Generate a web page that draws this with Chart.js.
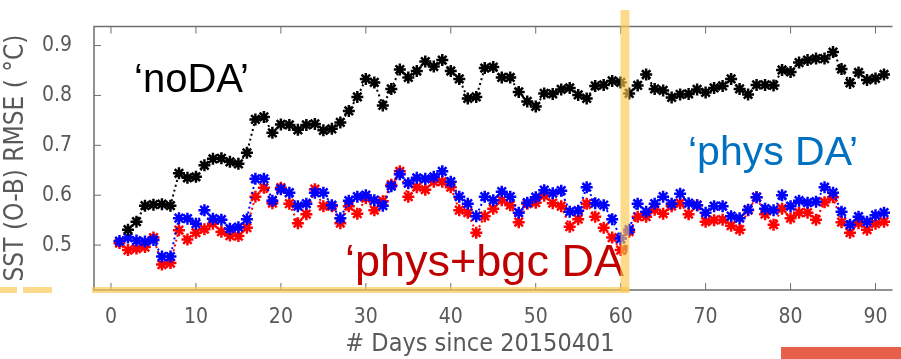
<!DOCTYPE html>
<html>
<head>
<meta charset="utf-8">
<script src="https://cdn.jsdelivr.net/npm/chart.js@4.4.1/dist/chart.umd.min.js"></script>
<style>
  html, body { margin: 0; padding: 0; background: #fff; overflow: hidden; }
  #wrap { position: relative; width: 901px; height: 359px; }
</style>
</head>
<body>
<div id="wrap"><canvas id="sstChart"></canvas></div>
<script>
const days = [1, 2, 3, 4, 5, 6, 7, 8, 9, 10, 11, 12, 13, 14, 15, 16, 17, 18, 19, 20,
  21, 22, 23, 24, 25, 26, 27, 28, 29, 30, 31, 32, 33, 34, 35, 36, 37, 38, 39, 40,
  41, 42, 43, 44, 45, 46, 47, 48, 49, 50, 51, 52, 53, 54, 55, 56, 57, 58, 59, 60,
  61, 62, 63, 64, 65, 66, 67, 68, 69, 70, 71, 72, 73, 74, 75, 76, 77, 78, 79, 80,
  81, 82, 83, 84, 85, 86, 87, 88, 89, 90, 91];

const noDA = [null, 0.531, 0.547, 0.579, 0.581, 0.582, 0.579, 0.644, 0.635, 0.637,
  0.660, 0.673, 0.674, 0.667, 0.663, 0.685, 0.752, 0.757, 0.725, 0.742,
  0.741, 0.731, 0.741, 0.743, 0.730, 0.733, 0.746, 0.769, 0.797, 0.833,
  0.826, 0.780, 0.813, 0.852, 0.836, 0.849, 0.868, 0.858, 0.871, 0.849,
  0.833, 0.794, 0.797, 0.855, 0.857, 0.836, 0.836, 0.807, 0.788, 0.778,
  0.804, 0.803, 0.812, 0.815, 0.801, 0.794, 0.819, 0.821, 0.829, 0.826,
  0.804, 0.820, 0.842, 0.813, 0.810, 0.796, 0.802, 0.803, 0.812, 0.806,
  0.815, 0.819, 0.833, 0.813, 0.802, 0.821, 0.821, 0.820, 0.851, 0.847,
  0.866, 0.871, 0.874, 0.874, 0.887, 0.853, 0.825, 0.846, 0.831, 0.834, 0.842];

const physDA = [0.508, 0.515, 0.509, 0.507, 0.510, 0.477, 0.477, 0.554, 0.553, 0.543,
  0.570, 0.553, 0.551, 0.533, 0.536, 0.552, 0.633, 0.633, 0.589, 0.612,
  0.605, 0.578, 0.583, 0.605, 0.605, 0.580, 0.554, 0.589, 0.597, 0.600,
  0.590, 0.579, 0.618, 0.642, 0.624, 0.635, 0.633, 0.637, 0.648, 0.627,
  0.597, 0.583, 0.558, 0.597, 0.590, 0.607, 0.597, 0.565, 0.585, 0.596,
  0.610, 0.604, 0.609, 0.567, 0.569, 0.616, 0.584, 0.580, 0.552, 0.513,
  0.531, 0.583, 0.567, 0.583, 0.597, 0.583, 0.603, 0.584, 0.580, 0.565,
  0.578, 0.578, 0.558, 0.554, 0.571, 0.596, 0.573, 0.570, 0.600, 0.578,
  0.589, 0.585, 0.587, 0.616, 0.605, 0.567, 0.541, 0.557, 0.547, 0.560, 0.565];

const physBgcDA = [0.504, 0.490, 0.493, 0.496, 0.515, 0.461, 0.464, 0.530, 0.511, 0.525,
  0.532, 0.543, 0.527, 0.519, 0.518, 0.535, 0.597, 0.615, 0.584, 0.615,
  0.583, 0.544, 0.562, 0.612, 0.578, 0.578, 0.544, 0.578, 0.563, 0.594,
  0.570, 0.588, 0.621, 0.648, 0.597, 0.616, 0.611, 0.627, 0.627, 0.616,
  0.570, 0.565, 0.525, 0.558, 0.573, 0.590, 0.580, 0.546, 0.583, 0.585,
  0.599, 0.584, 0.578, 0.537, 0.552, 0.583, 0.557, 0.535, 0.515, 0.490,
  0.527, 0.557, 0.557, 0.571, 0.563, 0.578, 0.584, 0.562, 0.580, 0.547,
  0.550, 0.551, 0.539, 0.531, 0.570, 0.596, 0.562, 0.541, 0.573, 0.554,
  0.565, 0.565, 0.551, 0.586, 0.596, 0.546, 0.525, 0.544, 0.531, 0.543, 0.547];

const xTicks = [0, 10, 20, 30, 40, 50, 60, 70, 80, 90];
const yTicks = [0.5, 0.6, 0.7, 0.8, 0.9];

const narrow = "'Liberation Sans Narrow', 'DejaVu Sans Condensed', 'Liberation Sans', sans-serif";
const axisGrey = '#6f6f6f';
const labelGrey = '#595959';

function series(values, colour) {
  return {
    data: days.map((d, i) => ({ x: d, y: values[i] })),
    borderColor: colour,
    backgroundColor: colour,
    borderWidth: 2,
    borderDash: [2, 3],
    pointStyle: 'star',
    pointRadius: 6,
    pointBorderWidth: 2.5,
    spanGaps: false,
    tension: 0
  };
}

// frame, inward tick marks, titles and slide decorations
const decorations = {
  id: 'decorations',
  beforeDatasetsDraw(chart) {
    const { ctx, chartArea: a, scales: { x, y } } = chart;
    ctx.save();
    ctx.strokeStyle = axisGrey;
    ctx.lineWidth = 1.5;
    ctx.beginPath();
    ctx.moveTo(a.right, a.top); ctx.lineTo(a.left, a.top);
    ctx.lineTo(a.left, a.bottom); ctx.lineTo(a.right, a.bottom);
    ctx.stroke();
    ctx.lineWidth = 1;
    ctx.beginPath();
    xTicks.forEach(v => {
      const px = x.getPixelForValue(v);
      ctx.moveTo(px, a.bottom); ctx.lineTo(px, a.bottom - 7);
      ctx.moveTo(px, a.top); ctx.lineTo(px, a.top + 7);
    });
    yTicks.forEach(v => {
      const py = y.getPixelForValue(v);
      ctx.moveTo(a.left, py); ctx.lineTo(a.left + 7, py);
    });
    ctx.stroke();
    ctx.restore();
  },
  afterDraw(chart) {
    const { ctx, chartArea: a, scales: { x } } = chart;
    ctx.save();

    // axis titles
    ctx.fillStyle = labelGrey;
    ctx.font = '25px ' + narrow;
    ctx.textAlign = 'center';
    ctx.textBaseline = 'middle';
    ctx.fillText('# Days since 20150401', 480, 344);
    ctx.save();
    ctx.translate(16, 158);
    ctx.rotate(-Math.PI / 2);
    ctx.font = '26px ' + narrow;
    ctx.fillText('SST (O-B) RMSE ( \u00B0C)', 0, 0);
    ctx.restore();

    // annotations
    ctx.textAlign = 'left';
    ctx.textBaseline = 'alphabetic';
    ctx.font = '40px "Liberation Sans", Arial, sans-serif';
    ctx.fillStyle = '#000000';
    ctx.fillText('\u2018noDA\u2019', 134, 92);
    ctx.font = '41px "Liberation Sans", Arial, sans-serif';
    ctx.fillStyle = '#0070c0';
    ctx.fillText('\u2018phys DA\u2019', 688, 165);
    ctx.font = '45px "Liberation Sans", Arial, sans-serif';
    ctx.fillStyle = '#c00000';
    ctx.fillText('\u2018phys+bgc DA\u2019', 345, 276);

    // highlight lines
    const xCut = x.getPixelForValue(60.5);
    ctx.fillStyle = 'rgba(252, 200, 80, 0.65)';
    ctx.fillRect(xCut - 4.5, 10, 9, a.bottom - 8);
    [[0, 17], [23, 52], [92, xCut + 4.5]].forEach(([x0, x1]) => {
      ctx.fillRect(x0, a.bottom - 3, x1 - x0, 6);
    });

    // slide element
    ctx.fillStyle = '#e8604c';
    ctx.fillRect(781, 347, 120, 12);
    ctx.restore();
  }
};

const ctx = document.getElementById('sstChart').getContext('2d');
const sstChart = new Chart(ctx, {
  type: 'line',
  data: {
    datasets: [
      series(noDA, '#000000'),
      series(physDA, '#0000ff'),
      series(physBgcDA, '#ff0000')
    ]
  },
  options: {
    responsive: true,
    maintainAspectRatio: false,
    animation: false,
    layout: { padding: { top: 15, right: 0, left: 0, bottom: 0 } },
    plugins: {
      legend: { display: false },
      tooltip: { enabled: false }
    },
    scales: {
      x: {
        type: 'linear',
        min: -2,
        max: 92,
        afterBuildTicks: scale => { scale.ticks = xTicks.map(v => ({ value: v })); },
        afterFit: scale => { scale.height = 69; },
        grid: { display: false },
        border: { display: false },
        ticks: {
          color: labelGrey,
          padding: 7,
          maxRotation: 0,
          font: { family: narrow, size: 21 }
        }
      },
      y: {
        min: 0.41,
        max: 0.938,
        afterBuildTicks: scale => { scale.ticks = yTicks.map(v => ({ value: v })); },
        afterFit: scale => { scale.width = 94; },
        grid: { display: false },
        border: { display: false },
        ticks: {
          color: labelGrey,
          padding: 14,
          font: { family: narrow, size: 21 },
          callback: v => v.toFixed(1)
        }
      }
    }
  },
  plugins: [decorations]
});
</script>
</body>
</html>
